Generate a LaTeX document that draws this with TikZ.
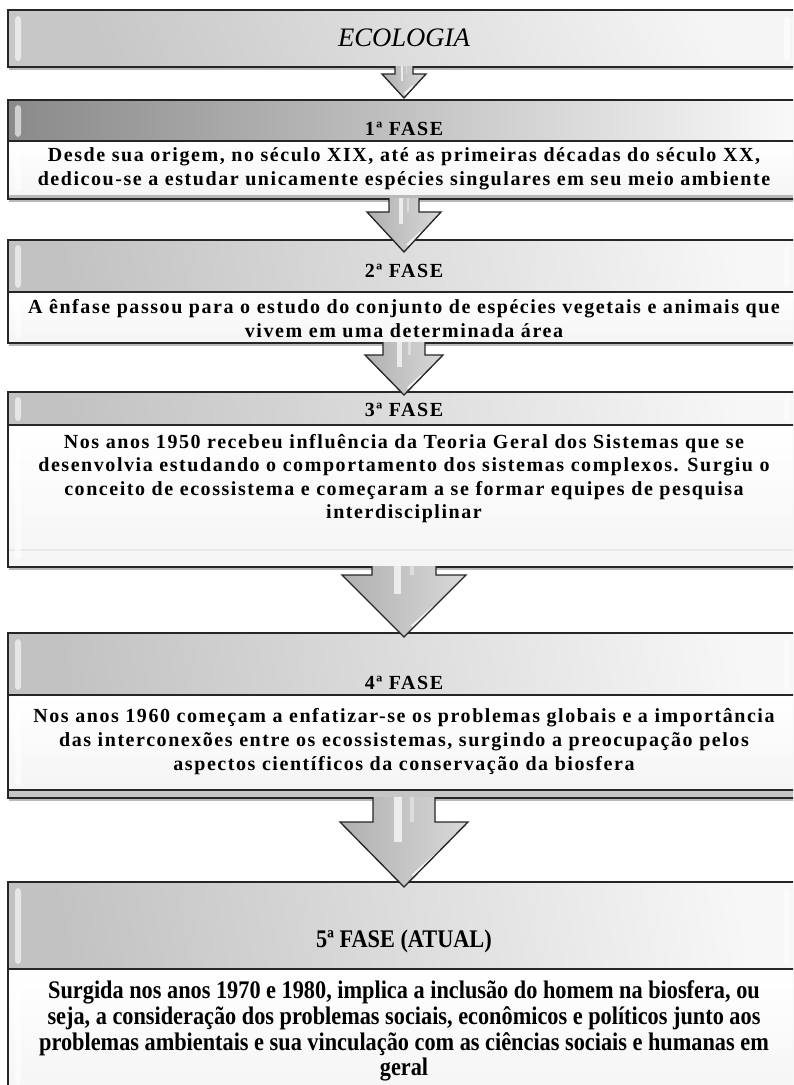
\documentclass[tikz,border=0pt]{standalone}
\usepackage{fontspec}
\setmainfont{Liberation Serif}
\newfontfamily\spacedfont[LetterSpace=7.8]{Liberation Serif}
\usetikzlibrary{shadows}
\newcommand\condtext[1]{\scalebox{0.88}[1]{\begin{tabular}{@{}c@{}}#1\end{tabular}}}
\begin{document}
\begin{tikzpicture}[x=0.75pt,y=-0.75pt,
  outline/.style={draw=black!85,line width=1.3pt},
  boxshadow/.style={fill=white,drop shadow={opacity=0.55,shadow xshift=0.5pt,shadow yshift=-2.2pt}},
  hdrdark/.style={left color=gray!92,right color=gray!4},
  hdr/.style={left color=gray!48,right color=gray!6,shading angle=100},
  topbar/.style={left color=gray!44,right color=gray!8,shading angle=115},
  bodyfill/.style={top color=white,bottom color=gray!8},
  gloss/.style={fill=white,opacity=0.6,rounded corners=2.5pt},
  title/.style={font=\spacedfont\bfseries\fontsize{15}{17.7}\selectfont,inner sep=0pt},
  txt/.style={font=\spacedfont\bfseries\fontsize{15}{17.7}\selectfont,align=center,inner sep=0pt},
  cond/.style={font=\bfseries\fontsize{19}{19.4}\selectfont,inner sep=0pt},
  arrowfill/.style={left color=gray!62,right color=gray!30},
  pics/barrow/.style n args={4}{code={
    \shade[arrowfill] (-#1,0) -- (-#1,#3) -- (-#2,#3) -- (0,#4) -- (#2,#3) -- (#1,#3) -- (#1,0) -- cycle;
    \fill[white,opacity=0.7] (-0.32*#1,0) rectangle (-0.08*#1,#3+0.3*#4-0.3*#3);
    \fill[white,opacity=0.4] (0.2*#1,0) rectangle (0.32*#1,#3);
    \draw[white,opacity=0.75,line width=1.6pt,line cap=round] (0.52*#2-3,0.52*#4+0.48*#3) -- (0.18*#2-3,0.82*#4+0.18*#3);
    \draw[black!85,line width=1pt,line join=miter] (-#1,0) -- (-#1,#3) -- (-#2,#3) -- (0,#4) -- (#2,#3) -- (#1,#3) -- (#1,0);
  }}
]
\useasboundingbox (0,0) rectangle (793,1085);
\clip (0,0) rectangle (793,1085);

% ---------- ECOLOGIA
\path[boxshadow] (8,10) rectangle (799,67);
\shade[topbar] (8,10) rectangle (799,67);
\fill[gloss] (15,16) rectangle (21,61);
\fill[gloss] (784,16) rectangle (790,61);
\draw[outline] (8,10) rectangle (799,67);
\node[font=\itshape\fontsize{20}{24}\selectfont,inner sep=0pt] (eco) at (404,38) {ECOLOGIA};

% ---------- 1a FASE
\path[boxshadow] (8,100) rectangle (799,199);
\shade[hdrdark] (8,100) rectangle (799,141);
\shade[bodyfill] (8,141) rectangle (799,199);
\fill[gray!55] (8,195) rectangle (799,199);
\fill[gloss] (15,105) rectangle (21,137);
\fill[gloss] (15,146) rectangle (21,191);
\draw[outline] (8,100) rectangle (799,199);
\draw[outline] (8,141) -- (799,141);
\node[title] (h1) at (404,129) {1ª FASE};
\node[txt] (t1) at (404,169) {Desde sua origem, no século XIX, até as primeiras décadas do século XX,\\dedicou-se a estudar unicamente espécies singulares em seu meio ambiente};

% ---------- 2a FASE
\path[boxshadow] (8,240) rectangle (799,343);
\shade[hdr] (8,240) rectangle (799,292);
\shade[bodyfill] (8,292) rectangle (799,343);
\fill[gloss] (15,245) rectangle (21,288);
\fill[gloss] (15,297) rectangle (21,338);
\fill[gloss] (784,245) rectangle (790,288);
\draw[outline] (8,240) rectangle (799,343);
\draw[outline] (8,292) -- (799,292);
\node[title] (h2) at (404,271) {2ª FASE};
\node[txt] (t2) at (404,318.5) {A ênfase passou para o estudo do conjunto de espécies vegetais e animais que\\vivem em uma determinada área};

% ---------- 3a FASE
\path[boxshadow] (8,392) rectangle (799,567);
\shade[hdr] (8,392) rectangle (799,425);
\shade[bodyfill] (8,425) rectangle (799,567);
\draw[gray!18,line width=0.8pt] (8,550) -- (799,550);
\fill[gloss] (15,397) rectangle (21,421);
\fill[gloss] (15,430) rectangle (21,560);
\fill[gloss] (784,397) rectangle (790,421);
\draw[outline] (8,392) rectangle (799,567);
\draw[outline] (8,425) -- (799,425);
\node[title] (h3) at (404,410) {3ª FASE};
\node[txt] (t3) at (404,478.5) {Nos anos 1950 recebeu influência da Teoria Geral dos Sistemas que se\\desenvolvia estudando o comportamento dos sistemas complexos. Surgiu o\\conceito de ecossistema e começaram a se formar equipes de pesquisa\\interdisciplinar};

% ---------- 4a FASE
\path[boxshadow] (8,633) rectangle (799,798);
\shade[hdr] (8,633) rectangle (799,695);
\shade[bodyfill] (8,695) rectangle (799,790);
\fill[gray!45] (8,790) rectangle (799,798);
\fill[gloss] (15,639) rectangle (21,690);
\fill[gloss] (15,700) rectangle (21,785);
\fill[gloss] (784,639) rectangle (790,690);
\draw[outline] (8,633) rectangle (799,798);
\draw[outline] (8,695) -- (799,695);
\draw[outline] (8,790) -- (799,790);
\node[title] (h4) at (404,683) {4ª FASE};
\node[txt] (t4) at (404,741.5) {Nos anos 1960 começam a enfatizar-se os problemas globais e a importância\\das interconexões entre os ecossistemas, surgindo a preocupação pelos\\aspectos científicos da conservação da biosfera};

% ---------- 5a FASE
\path[boxshadow] (8,882) rectangle (799,1095);
\shade[hdr] (8,882) rectangle (799,969);
\shade[bodyfill] (8,969) rectangle (799,1095);
\fill[gloss] (15,888) rectangle (21,964);
\fill[gloss] (15,974) rectangle (21,1085);
\fill[gloss] (784,888) rectangle (790,964);
\draw[outline] (8,882) rectangle (799,1095);
\draw[outline] (8,969) -- (799,969);
\node[cond] (h5) at (404,942) {\condtext{5ª FASE (ATUAL)}};
\node[cond] (t5) at (404,1032) {\condtext{Surgida nos anos 1970 e 1980, implica a inclusão do homem na biosfera, ou\\seja, a consideração dos problemas sociais, econômicos e políticos junto aos\\problemas ambientais e sua vinculação com as ciências sociais e humanas em\\geral}};

% ---------- arrows
\coordinate (a1) at (404,66);
\coordinate (a2) at (404,198);
\coordinate (a3) at (404,342);
\coordinate (a4) at (404,566);
\coordinate (a5) at (404,797);
\pic at (a1) {barrow={9}{22}{8}{32}};
\pic at (a2) {barrow={15}{37}{14}{54}};
\pic at (a3) {barrow={21}{39}{13}{53}};
\pic at (a4) {barrow={32}{62}{9}{71}};
\pic at (a5) {barrow={31}{64}{25}{90}};
\end{tikzpicture}
\end{document}
